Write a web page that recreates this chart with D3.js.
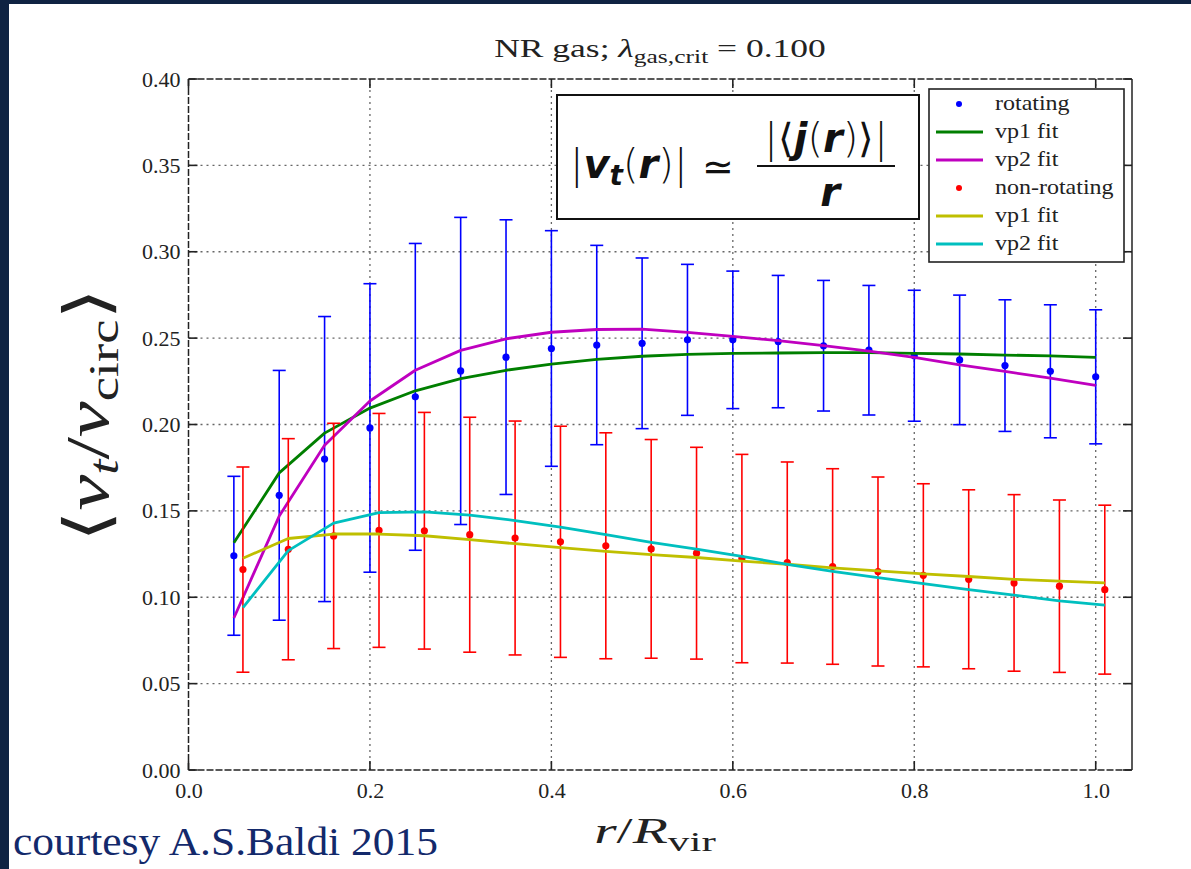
<!DOCTYPE html>
<html><head><meta charset="utf-8">
<script src="https://cdn.jsdelivr.net/npm/d3@7/dist/d3.min.js"></script>
<style>html,body{margin:0;padding:0;background:#0f2342;overflow:hidden} svg{display:block}</style>
</head><body>
<svg id="c" width="1191" height="869"></svg>
<script>
// ---- data ----
const rotX = [0.05,0.10,0.15,0.20,0.25,0.30,0.35,0.40,0.45,0.50,0.55,0.60,0.65,0.70,0.75,0.80,0.85,0.90,0.95,1.00];
const rotY = [0.124,0.159,0.180,0.198,0.216,0.231,0.239,0.244,0.246,0.247,0.249,0.249,0.248,0.2456,0.243,0.2398,0.2374,0.2341,0.2308,0.2276];
const rotErr = [0.046,0.0723,0.0825,0.0835,0.0888,0.0889,0.0795,0.0682,0.0577,0.0494,0.0437,0.0398,0.0383,0.0378,0.0375,0.0379,0.0375,0.0381,0.0385,0.0388];
const rotVp1 = [0.1315,0.172,0.195,0.2095,0.2195,0.2266,0.2314,0.2350,0.2377,0.2395,0.2406,0.2412,0.2414,0.2416,0.2416,0.2412,0.2408,0.2402,0.2397,0.2389];
const rotVp2 = [0.088,0.147,0.188,0.2136,0.2314,0.2429,0.2496,0.2534,0.2550,0.2552,0.2533,0.2510,0.2485,0.2456,0.2425,0.2389,0.2345,0.2307,0.2268,0.2226];

const nonX = [0.06,0.11,0.16,0.21,0.26,0.31,0.36,0.41,0.46,0.51,0.56,0.61,0.66,0.71,0.76,0.81,0.86,0.91,0.96,1.01];
const nonY = [0.116,0.1278,0.1355,0.1387,0.1385,0.1362,0.1343,0.1321,0.1298,0.128,0.1255,0.1224,0.1201,0.1178,0.1149,0.1127,0.1104,0.1083,0.1064,0.1044];
const nonErr = [0.0594,0.064,0.0652,0.0677,0.0685,0.068,0.0677,0.0669,0.0654,0.0633,0.0613,0.0603,0.0582,0.0566,0.0547,0.053,0.0518,0.0511,0.0499,0.0489];
const nonVp1 = [0.1226,0.134,0.1366,0.1366,0.1356,0.1333,0.131,0.1287,0.1266,0.1247,0.123,0.1209,0.1191,0.117,0.1153,0.1135,0.112,0.1104,0.1093,0.1083];
const nonVp2 = [0.094,0.127,0.1429,0.149,0.1494,0.1475,0.1444,0.1406,0.1362,0.1318,0.1278,0.1237,0.1191,0.115,0.1114,0.1079,0.1044,0.1012,0.0979,0.0954];

const xTicks = [0.0,0.2,0.4,0.6,0.8,1.0];
const xTickLabels = ["0.0","0.2","0.4","0.6","0.8","1.0"];
const yTicks = [0.00,0.05,0.10,0.15,0.20,0.25,0.30,0.35,0.40];
const yTickLabels = ["0.00","0.05","0.10","0.15","0.20","0.25","0.30","0.35","0.40"];
const legendLabels = ["rotating","vp1 fit","vp2 fit","non-rotating","vp1 fit","vp2 fit"];

// ---- drawing ----
const svg = d3.select("#c");
const serif = "'Liberation Serif','DejaVu Serif',serif";
svg.append("rect").attr("x",9).attr("y",4).attr("width",1182).attr("height",865).attr("fill","#ffffff");

const x = d3.scaleLinear().domain([0,1.04]).range([188.5,1132]);
const y = d3.scaleLinear().domain([0,0.4]).range([770,79]);
const X0 = x.range()[0], X1 = x.range()[1], Y0 = y.range()[0], Y1 = y.range()[1];

// grid
const grid = svg.append("g").attr("stroke","#666").attr("stroke-width",1.3).attr("stroke-dasharray","2,4");
grid.selectAll(".gx").data(xTicks.filter(d=>d>0)).enter().append("line")
  .attr("x1",d=>x(d)).attr("x2",d=>x(d)).attr("y1",Y0).attr("y2",Y1);
grid.selectAll(".gy").data(yTicks.filter(d=>d>0 && d<0.4)).enter().append("line")
  .attr("y1",d=>y(d)).attr("y2",d=>y(d)).attr("x1",X0).attr("x2",X1);

// axes via d3 axis (labels), inner ticks drawn separately
const axB = d3.axisBottom(x).tickValues(xTicks).tickFormat((d,i)=>xTickLabels[i]).tickSize(0).tickPadding(12);
const gB = svg.append("g").attr("transform",`translate(0,${Y0})`).call(axB);
gB.attr("font-family",serif).attr("font-size",22);
gB.select(".domain").remove();
gB.selectAll("text").attr("font-family",serif).attr("font-size",22).attr("fill","#222");
const axL = d3.axisLeft(y).tickValues(yTicks).tickFormat((d,i)=>yTickLabels[i]).tickSize(0).tickPadding(8);
const gL = svg.append("g").attr("transform",`translate(${X0},0)`).call(axL);
gL.attr("font-family",serif).attr("font-size",22);
gL.select(".domain").remove();
gL.selectAll("text").attr("font-family",serif).attr("font-size",22).attr("fill","#222");

// inward ticks
const tk = svg.append("g").attr("stroke","#222").attr("stroke-width",1.6);
xTicks.forEach(d=>{
  tk.append("line").attr("x1",x(d)).attr("x2",x(d)).attr("y1",Y0).attr("y2",Y0-9);
  tk.append("line").attr("x1",x(d)).attr("x2",x(d)).attr("y1",Y1).attr("y2",Y1+9);
});
yTicks.forEach(d=>{
  tk.append("line").attr("y1",y(d)).attr("y2",y(d)).attr("x1",X0).attr("x2",X0+9);
  tk.append("line").attr("y1",y(d)).attr("y2",y(d)).attr("x1",X1).attr("x2",X1-9);
});

// frame
const fr = svg.append("g").attr("stroke","#222").attr("stroke-width",1.5).attr("fill","none");
fr.append("line").attr("x1",X0).attr("x2",X1).attr("y1",Y1).attr("y2",Y1).attr("stroke-dasharray","7,2");
fr.append("line").attr("x1",X0).attr("x2",X1).attr("y1",Y0).attr("y2",Y0).attr("stroke-dasharray","7,2");
fr.append("line").attr("x1",X0).attr("x2",X0).attr("y1",Y0).attr("y2",Y1).attr("stroke-dasharray","7,2");
fr.append("line").attr("x1",X1).attr("x2",X1).attr("y1",Y0).attr("y2",Y1);

// series helpers
function errorbars(xs, ys, es, color){
  const g = svg.append("g").attr("stroke",color).attr("stroke-width",1.6);
  xs.forEach((xv,i)=>{
    const cx = x(xv), t = y(ys[i]+es[i]), b = y(ys[i]-es[i]);
    g.append("line").attr("x1",cx).attr("x2",cx).attr("y1",t).attr("y2",b);
    g.append("line").attr("x1",cx-6.5).attr("x2",cx+6.5).attr("y1",t).attr("y2",t);
    g.append("line").attr("x1",cx-6.5).attr("x2",cx+6.5).attr("y1",b).attr("y2",b);
  });
  return g;
}
function points(xs, ys, color){
  svg.append("g").selectAll("circle").data(xs).enter().append("circle")
    .attr("cx",d=>x(d)).attr("cy",(d,i)=>y(ys[i])).attr("r",3.6).attr("fill",color);
}
function curve(xs, ys, color){
  const line = d3.line().x(d=>x(d[0])).y(d=>y(d[1]));
  svg.append("path").datum(xs.map((d,i)=>[d,ys[i]])).attr("d",line)
    .attr("fill","none").attr("stroke",color).attr("stroke-width",2.8).attr("stroke-linejoin","round");
}

const cBlue="#0000ff", cGreen="#007f00", cMag="#bf00bf", cRed="#ff0000", cYel="#bfbf00", cCyan="#00bfbf";
errorbars(rotX, rotY, rotErr, cBlue);
points(rotX, rotY, cBlue);
curve(rotX, rotVp1, cGreen);
curve(rotX, rotVp2, cMag);
errorbars(nonX, nonY, nonErr, cRed);
points(nonX, nonY, cRed);
curve(nonX, nonVp1, cYel);
curve(nonX, nonVp2, cCyan);

// equation box
svg.append("rect").attr("x",557).attr("y",95).attr("width",362).attr("height",124)
  .attr("fill","#fff").attr("stroke","#111").attr("stroke-width",2);
const sans = "'DejaVu Sans',sans-serif";
const eqL = svg.append("text").attr("x",570).attr("y",178).attr("font-family",sans).attr("font-size",40).attr("fill","#111");
eqL.append("tspan").attr("font-weight","300").text("|");
eqL.append("tspan").attr("font-weight","bold").attr("font-style","italic").text("v");
eqL.append("tspan").attr("font-weight","bold").attr("font-style","italic").attr("font-size",28).attr("dy",7).text("t");
eqL.append("tspan").attr("dy",-7).attr("font-weight","300").text("(");
eqL.append("tspan").attr("font-weight","bold").attr("font-style","italic").text("r");
eqL.append("tspan").attr("font-weight","300").text(")|");
svg.append("text").attr("x",718).attr("y",180).attr("text-anchor","middle").attr("font-family",sans).attr("font-size",38).attr("fill","#111").text("≃");
svg.append("line").attr("x1",757).attr("x2",895).attr("y1",166).attr("y2",166).attr("stroke","#111").attr("stroke-width",2);
const eqN = svg.append("text").attr("x",826).attr("y",152).attr("text-anchor","middle").attr("font-family",sans).attr("font-size",40).attr("fill","#111");
eqN.append("tspan").attr("font-weight","300").text("|⟨");
eqN.append("tspan").attr("font-weight","bold").attr("font-style","italic").text("j");
eqN.append("tspan").attr("font-weight","300").text("(");
eqN.append("tspan").attr("font-weight","bold").attr("font-style","italic").text("r");
eqN.append("tspan").attr("font-weight","300").text(")⟩|");
svg.append("text").attr("x",830).attr("y",206).attr("text-anchor","middle").attr("font-family",sans).attr("font-size",40)
  .attr("font-weight","bold").attr("font-style","italic").attr("fill","#111").text("r");

// legend
svg.append("rect").attr("x",929).attr("y",89).attr("width",195).attr("height",173)
  .attr("fill","#fff").attr("stroke","#222").attr("stroke-width",1.6);
const legColors = [cBlue,cGreen,cMag,cRed,cYel,cCyan];
const legIsPoint = [true,false,false,true,false,false];
legendLabels.forEach((lab,i)=>{
  const ly = 104 + i*28;
  if (legIsPoint[i]) svg.append("circle").attr("cx",959).attr("cy",ly).attr("r",3).attr("fill",legColors[i]);
  else svg.append("line").attr("x1",936).attr("x2",983).attr("y1",ly).attr("y2",ly).attr("stroke",legColors[i]).attr("stroke-width",3);
  svg.append("text").attr("transform",`translate(995,${ly+6}) scale(1.2,1)`).attr("font-family",serif).attr("font-size",20).attr("fill","#222").text(lab);
});

// title
const tt = svg.append("text").attr("transform","translate(660,57) scale(1.42,1)").attr("text-anchor","middle").attr("font-family",serif).attr("font-size",25).attr("fill","#222");
tt.append("tspan").text("NR gas; ");
tt.append("tspan").attr("font-style","italic").text("λ");
tt.append("tspan").attr("font-size",18).attr("dy",6).text("gas,crit");
tt.append("tspan").attr("dy",-6).text(" = 0.100");

// x label
const xl = svg.append("text").attr("transform","translate(655,843) scale(1.6,1)").attr("text-anchor","middle").attr("font-family",serif).attr("font-size",36).attr("fill","#222");
xl.append("tspan").attr("font-style","italic").text("r");
xl.append("tspan").text("/");
xl.append("tspan").attr("font-style","italic").text("R");
xl.append("tspan").attr("font-size",27).attr("dy",8).text("vir");

// y label
const yl = svg.append("text").attr("transform","translate(108,415) rotate(-90) scale(1.3,1)").attr("text-anchor","middle").attr("font-family",serif).attr("font-size",62).attr("fill","#222");
yl.append("tspan").attr("font-family","'DejaVu Sans',sans-serif").attr("font-weight","200").text("⟨");
yl.append("tspan").attr("font-style","italic").text("v");
yl.append("tspan").attr("font-style","italic").attr("font-size",42).attr("dy",10).text("t");
yl.append("tspan").attr("dy",-10).text("/");
yl.append("tspan").attr("font-style","italic").text("v");
yl.append("tspan").attr("font-size",42).attr("dy",10).text("circ");
yl.append("tspan").attr("dy",-10).attr("font-family","'DejaVu Sans',sans-serif").text("⟩");

// credit
svg.append("text").attr("x",13).attr("y",855).attr("font-family","'Liberation Serif',serif").attr("font-size",40)
  .attr("textLength",425).attr("lengthAdjust","spacingAndGlyphs").attr("fill","#13296b").text("courtesy A.S.Baldi 2015");
</script>
</body></html>
